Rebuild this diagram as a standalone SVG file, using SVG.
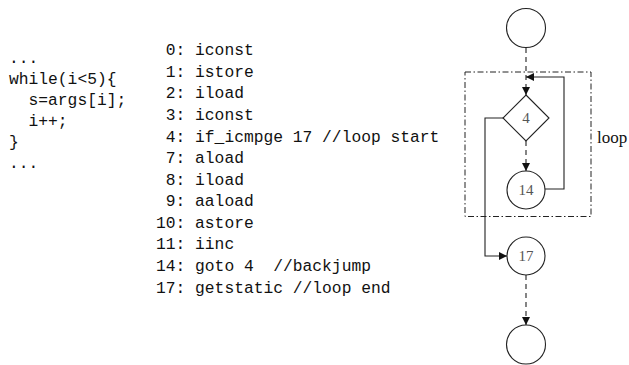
<svg xmlns="http://www.w3.org/2000/svg" width="629" height="365" viewBox="0 0 629 365">
<style>
.code{font-family:"Liberation Mono","DejaVu Sans Mono",monospace;font-size:16.3px;fill:#111;white-space:pre}
.lbl{font-family:"Liberation Serif","DejaVu Serif",serif;font-size:15px;fill:#555;text-anchor:middle}
.node{fill:#fff;stroke:#222;stroke-width:1.1}
.edge{fill:none;stroke:#222;stroke-width:1.1}
.dash{stroke-dasharray:5,4}
</style>
<defs>
<marker id="ah" viewBox="0 0 10 10" refX="10" refY="5" markerWidth="9" markerHeight="8" markerUnits="userSpaceOnUse" orient="auto">
<path d="M0,0 L10,5 L0,10 z" fill="#111"/>
</marker>
</defs>
<g id="source">
<text class="code" x="9" y="63" xml:space="preserve">...</text>
<text class="code" x="9" y="83.5" xml:space="preserve">while(i&lt;5){</text>
<text class="code" x="9" y="104.5" xml:space="preserve">  s=args[i];</text>
<text class="code" x="9" y="125.5" xml:space="preserve">  i++;</text>
<text class="code" x="9" y="146.5" xml:space="preserve">}</text>
<text class="code" x="9" y="168" xml:space="preserve">...</text>
</g>
<g id="bytecode">
<text class="code" x="156" y="55.2" xml:space="preserve"> 0: iconst</text>
<text class="code" x="156" y="76.8" xml:space="preserve"> 1: istore</text>
<text class="code" x="156" y="98.3" xml:space="preserve"> 2: iload</text>
<text class="code" x="156" y="119.9" xml:space="preserve"> 3: iconst</text>
<text class="code" x="156" y="141.5" xml:space="preserve"> 4: if_icmpge 17 //loop start</text>
<text class="code" x="156" y="163.1" xml:space="preserve"> 7: aload</text>
<text class="code" x="156" y="184.6" xml:space="preserve"> 8: iload</text>
<text class="code" x="156" y="206.2" xml:space="preserve"> 9: aaload</text>
<text class="code" x="156" y="227.8" xml:space="preserve">10: astore</text>
<text class="code" x="156" y="249.4" xml:space="preserve">11: iinc</text>
<text class="code" x="156" y="270.9" xml:space="preserve">14: goto 4  //backjump</text>
<text class="code" x="156" y="292.5" xml:space="preserve">17: getstatic //loop end</text>
</g>
<g id="loop-box">
<rect x="465" y="72" width="126" height="144.5" fill="none" stroke="#222" stroke-width="1" stroke-dasharray="6,2.5,1.5,2.5"/>
<text x="597" y="143" font-family="Liberation Serif, DejaVu Serif, serif" font-size="17" fill="#111">loop</text>
</g>
<g id="connectors">
<path class="edge dash" d="M526,48 V95" marker-end="url(#ah)"/>
<path class="edge dash" d="M526,141 V171" marker-end="url(#ah)"/>
<path class="edge" d="M545,189 H564 V77 H526" marker-end="url(#ah)"/>
<path class="edge" d="M503,118 H485 V256 H507" marker-end="url(#ah)"/>
<path class="edge dash" d="M526,275 V325" marker-end="url(#ah)"/>
</g>
<g id="entry"><circle class="node" cx="526" cy="28" r="19.5"/></g>
<g id="n4"><polygon class="node" points="526,95 549,118 526,141 503,118"/><text class="lbl" x="526" y="123">4</text></g>
<g id="n14"><circle class="node" cx="526" cy="190" r="19"/><text class="lbl" x="526" y="195">14</text></g>
<g id="n17"><circle class="node" cx="526" cy="256" r="19"/><text class="lbl" x="526" y="261">17</text></g>
<g id="exit"><circle class="node" cx="526" cy="344.5" r="19.5"/></g>
</svg>
